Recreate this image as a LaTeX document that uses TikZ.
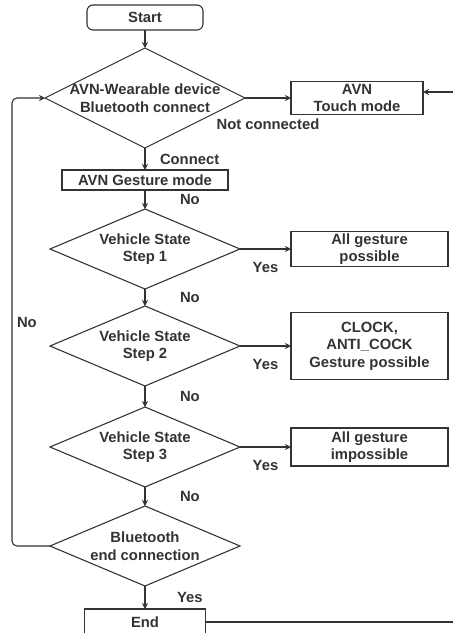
\documentclass[tikz,border=0pt]{standalone}
\usepackage{fontspec}
\setmainfont{Liberation Sans}
\usepackage{tikz}
\usetikzlibrary{shapes.geometric,arrows.meta,positioning}

\begin{document}
\begin{tikzpicture}[node distance=18pt and 46pt, line width=1.1pt, color=black!80, >={Stealth[length=6pt,width=6pt]},
		every node/.style={font=\fontsize{14.8}{17.5}\selectfont\bfseries, outer sep=0pt},
		box/.style={draw, align=center, inner sep=1pt},
		sidebox/.style={box, minimum width=157pt},
		decision/.style={draw, diamond, shape aspect=2, align=center, inner sep=-4pt, minimum width=190pt, minimum height=80pt},
		lbl/.style={inner sep=1pt}]
			\useasboundingbox (0,0) rectangle (453pt,-633pt);
			\node[box, rounded corners=6pt, minimum width=116pt, minimum height=25pt] (start) at (145pt,-17.5pt) {Start};
			\node[decision, minimum width=200pt, minimum height=100pt, below=18pt of start] (bt) {AVN-Wearable device\\Bluetooth connect};
			\node[box, minimum width=132pt, minimum height=33pt, right=46pt of bt] (touch) {AVN\\Touch mode};
			\node[box, minimum width=166pt, minimum height=20pt, below=22pt of bt] (gesture) {AVN Gesture mode};
			
			\node[decision, below=19pt of gesture] (vs1) {Vehicle State\\Step 1};
			\node[sidebox, minimum height=35pt, right=51pt of vs1] (allok) {All gesture\\possible};
			\node[decision, below=17pt of vs1] (vs2) {Vehicle State\\Step 2};
			\node[sidebox, minimum height=67pt, right=51pt of vs2] (clock) {CLOCK,\\ANTI\_COCK\\Gesture possible};
			\node[decision, below=21pt of vs2] (vs3) {Vehicle State\\Step 3};
			\node[sidebox, minimum height=38pt, right=51pt of vs3] (allno) {All gesture\\impossible};
			\node[decision, below=19pt of vs3] (btend) {Bluetooth\\end connection};
			\node[box, minimum width=121pt, minimum height=26pt, below=23pt of btend] (end) {End};
			
			\draw[->] (start) -- (bt);
			\draw[->] (bt) -- node[lbl, midway, below=20pt] {Not connected} (touch);
			\draw[->] (bt) -- node[lbl, right=14pt] {Connect} (gesture);
			\draw[->] (gesture) -- node[lbl, right=34pt] {No} (vs1);
			\draw[->] (vs1) -- node[lbl, below=12pt] {Yes} (allok);
			\draw[->] (vs1) -- node[lbl, right=34pt] {No} (vs2);
			\draw[->] (vs2) -- node[lbl, below=12pt] {Yes} (clock);
			\draw[->] (vs2) -- node[lbl, right=34pt] {No} (vs3);
			\draw[->] (vs3) -- node[lbl, below=12pt] {Yes} (allno);
			\draw[->] (vs3) -- node[lbl, right=34pt] {No} (btend);
			\draw[->] (btend) -- node[lbl, right=31pt] {Yes} (end);
			\draw[->, rounded corners=5pt] (btend.west) -- +(-38pt,0) |- node[lbl, pos=0.25, right=4pt] {No} (bt.west);
			\draw[->] (end.east) -- +(250pt,0) |- ([yshift=6pt]touch.east);
		\end{tikzpicture}
\end{document}
